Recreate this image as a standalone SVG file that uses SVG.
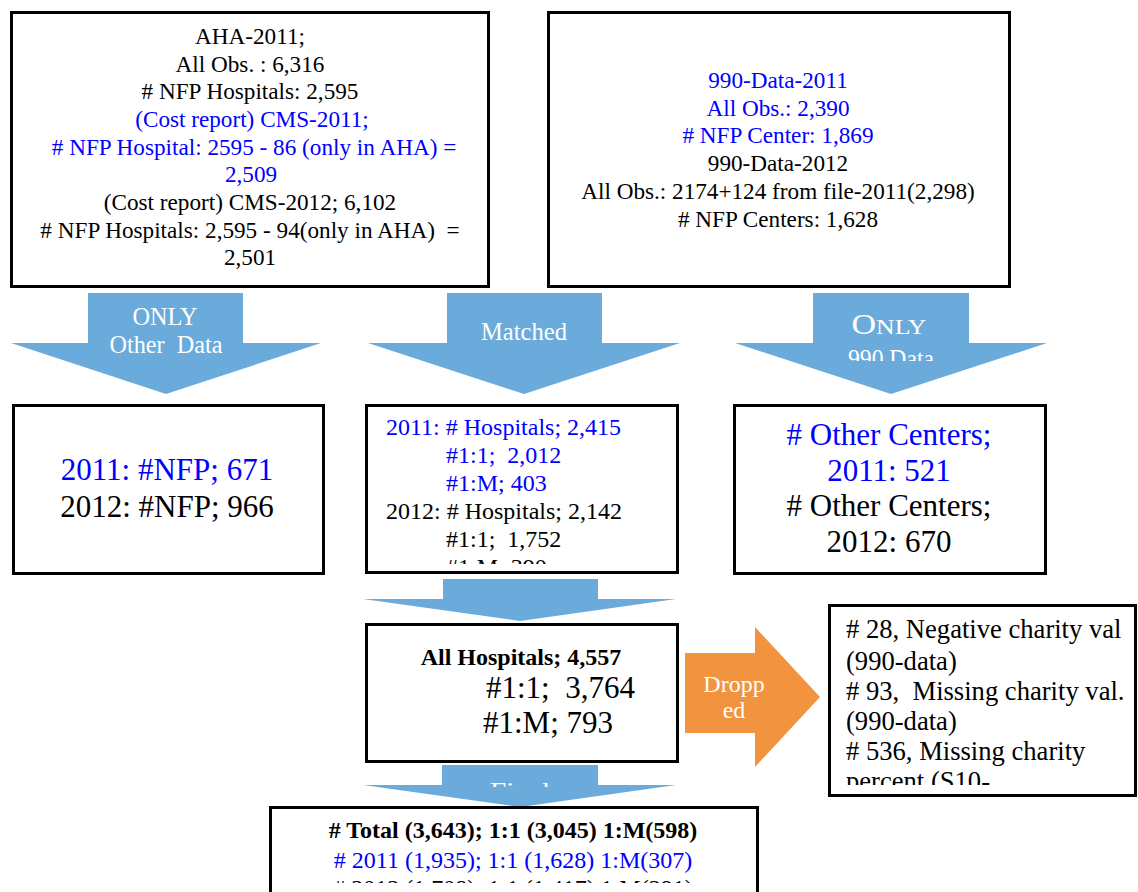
<svg xmlns="http://www.w3.org/2000/svg" width="1138" height="892" viewBox="0 0 1138 892">
<style>
  text { font-family: "Liberation Serif", "Times New Roman", serif; white-space: pre; }
  .box { fill: #ffffff; stroke: #000000; stroke-width: 3; }
  .t23 { font-size: 23.2px; fill: #000000; }
  .t24 { font-size: 24px; fill: #000000; }
  .t26 { font-size: 26.6px; fill: #000000; }
  .t31 { font-size: 31px; fill: #000000; }
  .blue { fill: #0000ff; }
  .mid { text-anchor: middle; }
  .bold { font-weight: bold; }
  .arrowB { fill: #6aabdc; }
  .arrowO { fill: #f29340; }
  .lbl { fill: #ffffff; font-size: 25px; text-anchor: middle; }
</style>
<defs>
  <clipPath id="clipMatched"><rect x="360" y="400" width="320" height="164"/></clipPath>
  <clipPath id="clip990"><rect x="730" y="290" width="320" height="71"/></clipPath>
  <clipPath id="clipFinal"><rect x="360" y="760" width="320" height="27"/></clipPath>
  <clipPath id="clipDropped"><rect x="828" y="600" width="310" height="185"/></clipPath>
  <clipPath id="clipTotal"><rect x="265" y="805" width="500" height="78"/></clipPath>
</defs>
<rect x="0" y="0" width="1138" height="892" fill="#ffffff"/>

<g id="connectors">
  <g id="arrow-only-other">
    <polygon class="arrowB" points="88,293 243,293 243,343 321,343 166,394 11,343 88,343"/>
    <text class="lbl" x="165" y="325" textLength="65" lengthAdjust="spacingAndGlyphs">ONLY</text>
    <text class="lbl" x="166" y="353" textLength="113" lengthAdjust="spacingAndGlyphs">Other  Data</text>
  </g>
  <g id="arrow-matched">
    <polygon class="arrowB" points="447,293 602,293 602,343 680,343 524,394 368,343 447,343"/>
    <text class="lbl" x="524" y="340" textLength="86" lengthAdjust="spacingAndGlyphs">Matched</text>
  </g>
  <g id="arrow-only-990">
    <polygon class="arrowB" points="813,293 969,293 969,343 1047,343 891,394 735,343 813,343"/>
    <text class="lbl" x="889" y="334" textLength="75" lengthAdjust="spacingAndGlyphs"><tspan font-size="29">O</tspan><tspan font-size="22">NLY</tspan></text>
    <g clip-path="url(#clip990)">
      <text class="lbl" x="891" y="367" textLength="86" lengthAdjust="spacingAndGlyphs">990 Data</text>
    </g>
  </g>
  <g id="arrow-to-all">
    <polygon class="arrowB" points="443,579 598,579 598,599 676,599 520,621 363,599 443,599"/>
  </g>
  <g id="arrow-final">
    <polygon class="arrowB" points="442,765 598,765 598,785 676,785 520,807 363,785 442,785"/>
    <g clip-path="url(#clipFinal)">
      <text class="lbl" x="520" y="800" textLength="60" lengthAdjust="spacingAndGlyphs">Final</text>
    </g>
  </g>
  <g id="arrow-dropped">
    <polygon class="arrowO" points="685,653 755,653 755,627 820,697 755,767 755,733 685,733"/>
    <text x="734" y="692" style="font-size:24px;fill:#ffffff;text-anchor:middle">Dropp</text>
    <text x="734" y="718" style="font-size:24px;fill:#ffffff;text-anchor:middle">ed</text>
  </g>
</g>

<g id="node-aha-cms">
  <rect class="box" x="11.5" y="12.5" width="477" height="274"/>
  <text class="t23 mid" x="250" y="44">AHA-2011;</text>
  <text class="t23 mid" x="250" y="72">All Obs. : 6,316</text>
  <text class="t23 mid" x="250" y="99"># NFP Hospitals: 2,595</text>
  <text class="t23 mid blue" x="252" y="127">(Cost report) CMS-2011;</text>
  <text class="t23 mid blue" x="254" y="155"># NFP Hospital: 2595 - 86 (only in AHA) =</text>
  <text class="t23 mid blue" x="251" y="182">2,509</text>
  <text class="t23 mid" x="250" y="210">(Cost report) CMS-2012; 6,102</text>
  <text class="t23 mid" x="250" y="238"># NFP Hospitals: 2,595 - 94(only in AHA)  =</text>
  <text class="t23 mid" x="250" y="265">2,501</text>
</g>

<g id="node-990">
  <rect class="box" x="548.5" y="12.5" width="461" height="274"/>
  <text class="t23 mid blue" x="778" y="88">990-Data-2011</text>
  <text class="t23 mid blue" x="778" y="116">All Obs.: 2,390</text>
  <text class="t23 mid blue" x="778" y="143"># NFP Center: 1,869</text>
  <text class="t23 mid" x="778" y="171">990-Data-2012</text>
  <text class="t23 mid" x="778" y="199">All Obs.: 2174+124 from file-2011(2,298)</text>
  <text class="t23 mid" x="778" y="227"># NFP Centers: 1,628</text>
</g>

<g id="node-only-other">
  <rect class="box" x="13.5" y="405.5" width="310" height="168"/>
  <text class="t31 mid blue" x="167" y="480">2011: #NFP; 671</text>
  <text class="t31 mid" x="167" y="517">2012: #NFP; 966</text>
</g>

<g id="node-matched">
  <rect class="box" x="366.5" y="405.5" width="311" height="167"/>
  <g clip-path="url(#clipMatched)">
    <text class="t24 blue" x="386" y="435">2011: # Hospitals; 2,415</text>
    <text class="t24 blue" x="446" y="463">#1:1;  2,012</text>
    <text class="t24 blue" x="446" y="491">#1:M; 403</text>
    <text class="t24" x="386" y="519">2012: # Hospitals; 2,142</text>
    <text class="t24" x="446" y="547">#1:1;  1,752</text>
    <text class="t24" x="446" y="575">#1:M; 390</text>
  </g>
</g>

<g id="node-only-990">
  <rect class="box" x="734.5" y="405.5" width="311" height="168"/>
  <text class="t31 mid blue" x="889" y="445"># Other Centers;</text>
  <text class="t31 mid blue" x="889" y="481">2011: 521</text>
  <text class="t31 mid" x="889" y="516"># Other Centers;</text>
  <text class="t31 mid" x="889" y="552">2012: 670</text>
</g>

<g id="node-all">
  <rect class="box" x="366.5" y="624.5" width="311" height="137"/>
  <text class="t24 mid bold" x="521" y="665">All Hospitals; 4,557</text>
  <text class="t31" x="486" y="698">#1:1;  3,764</text>
  <text class="t31" x="483" y="733">#1:M; 793</text>
</g>

<g id="node-dropped">
  <rect class="box" x="829.5" y="605.5" width="306" height="190"/>
  <g clip-path="url(#clipDropped)">
    <text class="t26" x="846" y="638"># 28, Negative charity val</text>
    <text class="t26" x="846" y="670">(990-data)</text>
    <text class="t26" x="846" y="700"># 93,  Missing charity val.</text>
    <text class="t26" x="846" y="730">(990-data)</text>
    <text class="t26" x="846" y="760"># 536, Missing charity</text>
    <text class="t26" x="846" y="790">percent (S10-</text>
  </g>
</g>

<g id="node-final">
  <rect class="box" x="270.5" y="807.5" width="487" height="100"/>
  <g clip-path="url(#clipTotal)">
    <text class="t24 mid bold" x="513" y="838"># Total (3,643); 1:1 (3,045) 1:M(598)</text>
    <text class="t24 mid blue" x="513" y="868"># 2011 (1,935); 1:1 (1,628) 1:M(307)</text>
    <text class="t24 mid" x="513" y="896"># 2012 (1,708); 1:1 (1,417) 1:M(291)</text>
  </g>
</g>
</svg>
